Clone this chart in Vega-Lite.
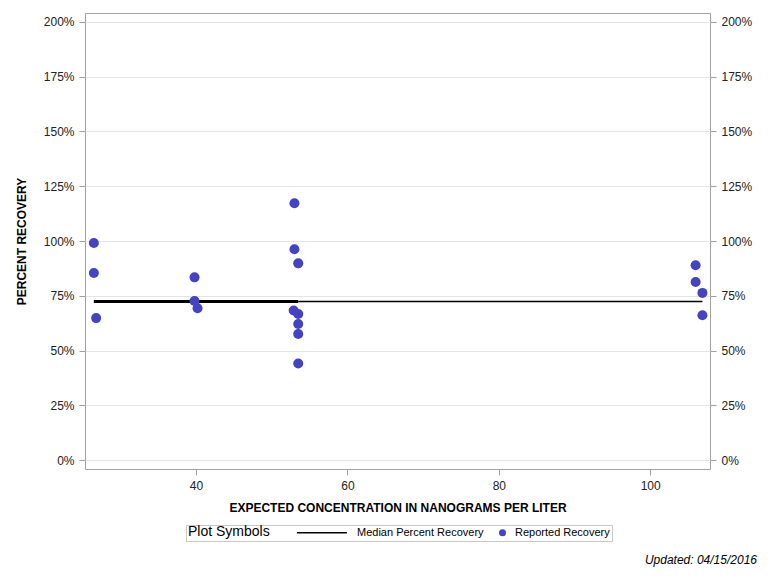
{
  "$schema": "https://vega.github.io/schema/vega-lite/v6.json",
  "width": 625,
  "height": 456,
  "autosize": "none",
  "padding": {"left": 85, "top": 13, "right": 58, "bottom": 107},
  "background": "white",
  "title": {
    "text": "Updated: 04/15/2016",
    "orient": "bottom",
    "anchor": "end",
    "frame": "group",
    "dx": 47,
    "offset": 13,
    "font": "Liberation Sans",
    "fontSize": 12,
    "fontStyle": "italic",
    "fontWeight": "normal",
    "color": "#000"
  },
  "config": {
    "font": "Liberation Sans",
    "view": {"stroke": "#a0a0a0", "strokeWidth": 1},
    "axis": {
      "labelFont": "Liberation Sans",
      "labelFontSize": 12,
      "labelColor": "#222",
      "tickColor": "#a0a0a0",
      "tickSize": 6,
      "domain": false,
      "titleFont": "Liberation Sans",
      "titleFontSize": 12,
      "titleFontWeight": "bold",
      "titleColor": "#000",
      "gridColor": "#e4e4e4"
    },
    "legend": {
      "labelFont": "Liberation Sans",
      "labelFontSize": 11,
      "labelColor": "#000",
      "titleFont": "Liberation Sans",
      "titleFontSize": 14,
      "titleFontWeight": "normal",
      "titleColor": "#000"
    }
  },
  "datasets": {
    "reported": [
      {"conc": 26.5, "pct": 99.1, "series": "Reported Recovery"},
      {"conc": 26.5, "pct": 85.4, "series": "Reported Recovery"},
      {"conc": 26.8, "pct": 64.8, "series": "Reported Recovery"},
      {"conc": 39.8, "pct": 83.4, "series": "Reported Recovery"},
      {"conc": 39.8, "pct": 72.6, "series": "Reported Recovery"},
      {"conc": 40.2, "pct": 69.3, "series": "Reported Recovery"},
      {"conc": 53.0, "pct": 117.2, "series": "Reported Recovery"},
      {"conc": 53.0, "pct": 96.2, "series": "Reported Recovery"},
      {"conc": 53.5, "pct": 89.8, "series": "Reported Recovery"},
      {"conc": 52.9, "pct": 68.3, "series": "Reported Recovery"},
      {"conc": 53.5, "pct": 66.7, "series": "Reported Recovery"},
      {"conc": 53.5, "pct": 62.1, "series": "Reported Recovery"},
      {"conc": 53.5, "pct": 57.5, "series": "Reported Recovery"},
      {"conc": 53.5, "pct": 44.1, "series": "Reported Recovery"},
      {"conc": 106.0, "pct": 88.9, "series": "Reported Recovery"},
      {"conc": 106.0, "pct": 81.3, "series": "Reported Recovery"},
      {"conc": 106.9, "pct": 76.3, "series": "Reported Recovery"},
      {"conc": 106.9, "pct": 66.1, "series": "Reported Recovery"}
    ],
    "medianThick": [
      {"conc": 26.5, "pct": 72.4},
      {"conc": 53.5, "pct": 72.4}
    ],
    "medianThin": [
      {"conc": 53.5, "pct": 72.4},
      {"conc": 106.9, "pct": 72.4}
    ]
  },
  "layer": [
    {
      "data": {"name": "medianThin"},
      "mark": {"type": "line", "color": "#000", "strokeWidth": 1.5},
      "encoding": {
        "x": {"field": "conc", "type": "quantitative", "scale": {"domain": [25.33, 107.9], "nice": false, "zero": false},
              "axis": {"values": [40, 60, 80, 100], "grid": false, "title": "EXPECTED CONCENTRATION IN NANOGRAMS PER LITER", "titlePadding": 11, "labelPadding": 5}},
        "y": {"field": "pct", "type": "quantitative", "scale": {"domain": [-4.1, 204.1], "nice": false, "zero": false},
              "axis": {"orient": "left", "values": [0, 25, 50, 75, 100, 125, 150, 175, 200], "labelExpr": "datum.value + '%'", "grid": true, "title": "PERCENT RECOVERY", "titlePadding": 15, "labelPadding": 5}}
      }
    },
    {
      "data": {"name": "medianThick"},
      "mark": {"type": "line", "color": "#000", "strokeWidth": 3},
      "encoding": {
        "x": {"field": "conc", "type": "quantitative"},
        "y": {"field": "pct", "type": "quantitative", "axis": null}
      }
    },
    {
      "data": {"name": "reported"},
      "mark": {"type": "point", "filled": true, "opacity": 1, "size": 100},
      "encoding": {
        "x": {"field": "conc", "type": "quantitative"},
        "y": {"field": "pct", "type": "quantitative",
              "axis": {"orient": "right", "values": [0, 25, 50, 75, 100, 125, 150, 175, 200], "labelExpr": "datum.value + '%'", "grid": false, "title": null, "labelPadding": 5}},
        "color": {"field": "series", "type": "nominal",
                  "scale": {"domain": ["Median Percent Recovery", "Reported Recovery"], "range": ["#000000", "#4343c3"]},
                  "legend": {"title": "Plot Symbols", "orient": "none", "legendX": 101, "legendY": 512, "direction": "horizontal", "titleOrient": "left", "titlePadding": 69, "strokeColor": "#c8c8c8", "padding": 2, "columnPadding": 13, "labelOffset": 7, "symbolSize": 49}},
        "shape": {"field": "series", "type": "nominal",
                  "scale": {"domain": ["Median Percent Recovery", "Reported Recovery"], "range": ["M-13.6,-0.2L0.7,-0.2L0.7,0.2L-13.6,0.2Z", "circle"]}}
      }
    }
  ],
  "resolve": {"scale": {"y": "shared"}, "axis": {"y": "independent"}}
}
